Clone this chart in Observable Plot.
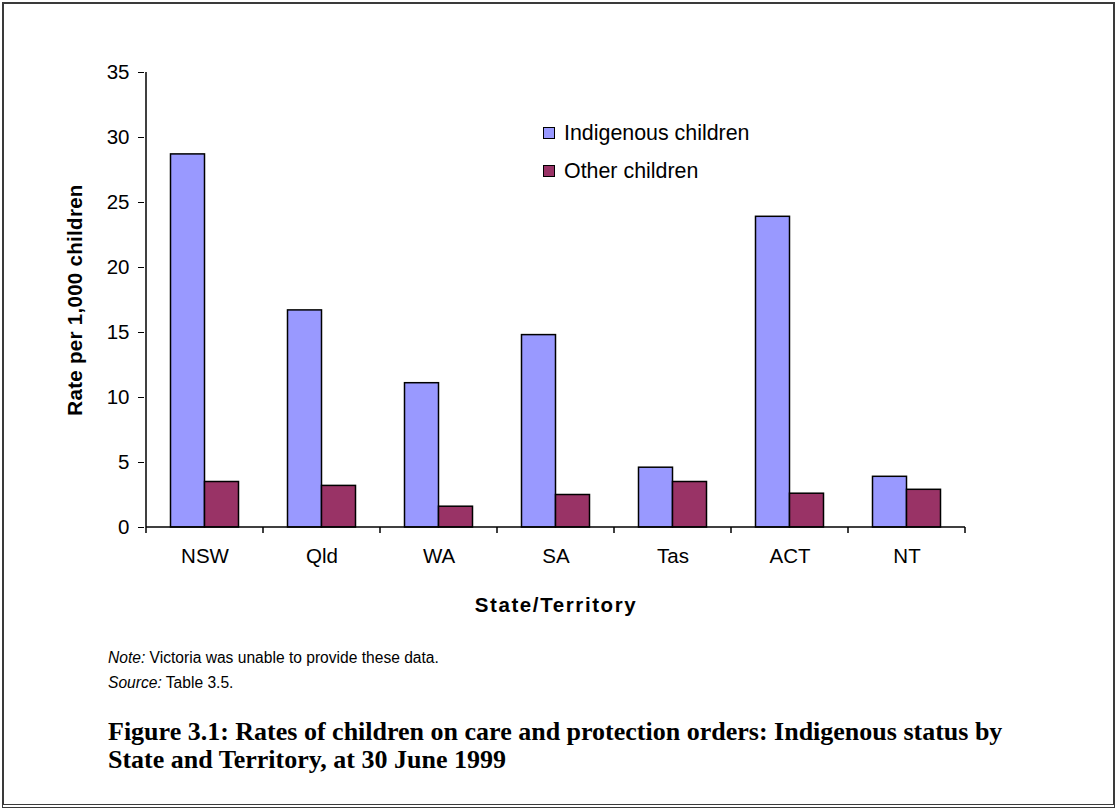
<!DOCTYPE html>
<html>
<head>
<meta charset="utf-8">
<script src="https://cdn.jsdelivr.net/npm/d3@7"></script>
<script src="https://cdn.jsdelivr.net/npm/@observablehq/plot@0.6"></script>
<style>
  html, body { margin: 0; padding: 0; background: #fff; }
  body { width: 1117px; height: 812px; position: relative; overflow: hidden; font-family: Arial, "Liberation Sans", sans-serif; color: #000; }
  #chart { position: absolute; left: 0; top: 0; }
  #chart svg { background: transparent !important; font-family: Arial, "Liberation Sans", sans-serif; }
  #frame { position: absolute; left: 2px; top: 2px; width: 1113px; height: 806px; box-sizing: border-box;
           border: 2px solid #3a3a3a; border-bottom: 4px double #3a3a3a; pointer-events: none; }
  g[aria-label="y-axis tick label"] text, g[aria-label="x-axis tick label"] text { font-size: 20.5px; }
  g[aria-label="y-axis label"] text { font-weight: bold; font-size: 20.5px; letter-spacing: 0.3px; }
  g[aria-label="x-axis label"] text { font-weight: bold; font-size: 20.5px; letter-spacing: 1.6px; }
  #legend { position: absolute; left: 543px; top: 120px; font-size: 21.4px; }
  #legend .item { display: flex; align-items: center; height: 26px; margin-bottom: 12px; }
  #legend .sw { display: inline-block; width: 10px; height: 10px; border: 1.5px solid #000; margin-right: 9px; }
  #note { position: absolute; left: 108px; top: 645px; font-size: 15.6px; line-height: 25px; }
  #title { position: absolute; left: 108px; top: 718px; font-family: "Liberation Serif", "DejaVu Serif", serif;
           font-weight: bold; font-size: 26px; line-height: 28px; }
</style>
</head>
<body>
<div id="chart"></div>
<div id="legend"></div>
<div id="note"><div><i>Note:</i> Victoria was unable to provide these data.</div><div><i>Source:</i> Table 3.5.</div></div>
<div id="title">Figure 3.1: Rates of children on care and protection orders: Indigenous status by<br>State and Territory, at 30 June 1999</div>
<div id="frame"></div>
<script>
const states = ["NSW", "Qld", "WA", "SA", "Tas", "ACT", "NT"];
const indigenous = [28.7, 16.7, 11.1, 14.8, 4.6, 23.9, 3.9];
const other = [3.5, 3.2, 1.6, 2.5, 3.5, 2.6, 2.9];
const seriesNames = ["Indigenous children", "Other children"];
const seriesColors = ["#9999ff", "#993366"];
const yTicks = [0, 5, 10, 15, 20, 25, 30, 35];

const data = states.map((s, i) => ({state: s, indigenous: indigenous[i], other: other[i]}));

// axis lines: y-axis line, baseline, and category-boundary ticks from the library scales
function axisLines(index, scales) {
  const x = scales.x, y = scales.y;
  const bw = typeof x.bandwidth === "function" ? x.bandwidth() : (x(states[1]) - x(states[0]));
  const yd = y.domain();
  const g = d3.create("svg:g").attr("stroke", "#000").attr("stroke-width", 1.5).attr("fill", "none");
  const edges = states.map(s => x(s)).concat([x(states[states.length - 1]) + bw]);
  const x0 = edges[0], x1 = edges[edges.length - 1];
  g.append("line").attr("x1", x0).attr("x2", x0).attr("y1", y(yd[1])).attr("y2", y(0));
  g.append("line").attr("x1", x0).attr("x2", x1).attr("y1", y(0)).attr("y2", y(0));
  for (const e of edges) g.append("line").attr("x1", e).attr("x2", e).attr("y1", y(0)).attr("y2", y(0) + 6);
  return g.node();
}

const plot = Plot.plot({
  width: 1117,
  height: 640,
  marginLeft: 144,
  marginRight: 150,
  marginTop: 72,
  marginBottom: 113,
  style: {background: "transparent", fontSize: "20.5px"},
  x: {domain: states, padding: 0, label: null},
  y: {domain: [0, 35], label: null},
  marks: [
    Plot.barY(data, {x: "state", y: "indigenous", fill: seriesColors[0], stroke: "#000", strokeWidth: 1.5,
                     insetLeft: 41.5, insetRight: 41.5, dx: -17}),
    Plot.barY(data, {x: "state", y: "other", fill: seriesColors[1], stroke: "#000", strokeWidth: 1.5,
                     insetLeft: 41.5, insetRight: 41.5, dx: 17}),
    Plot.axisY({ticks: yTicks, tickSize: 6, tickPadding: 9, tickFormat: d => String(d), fontSize: 20.5,
                label: "Rate per 1,000 children", labelAnchor: "center", labelOffset: 77, labelArrow: "none"}),
    Plot.axisX({tickSize: 0, tickPadding: 21, fontSize: 20.5,
                label: "State/Territory", labelAnchor: "center", labelOffset: 84, labelArrow: "none"}),
    axisLines
  ]
});
document.getElementById("chart").appendChild(plot);

const legend = d3.select("#legend");
seriesNames.forEach((name, i) => {
  const item = legend.append("div").attr("class", "item");
  item.append("span").attr("class", "sw").style("background", seriesColors[i]);
  item.append("span").text(name);
});
</script>
</body>
</html>
